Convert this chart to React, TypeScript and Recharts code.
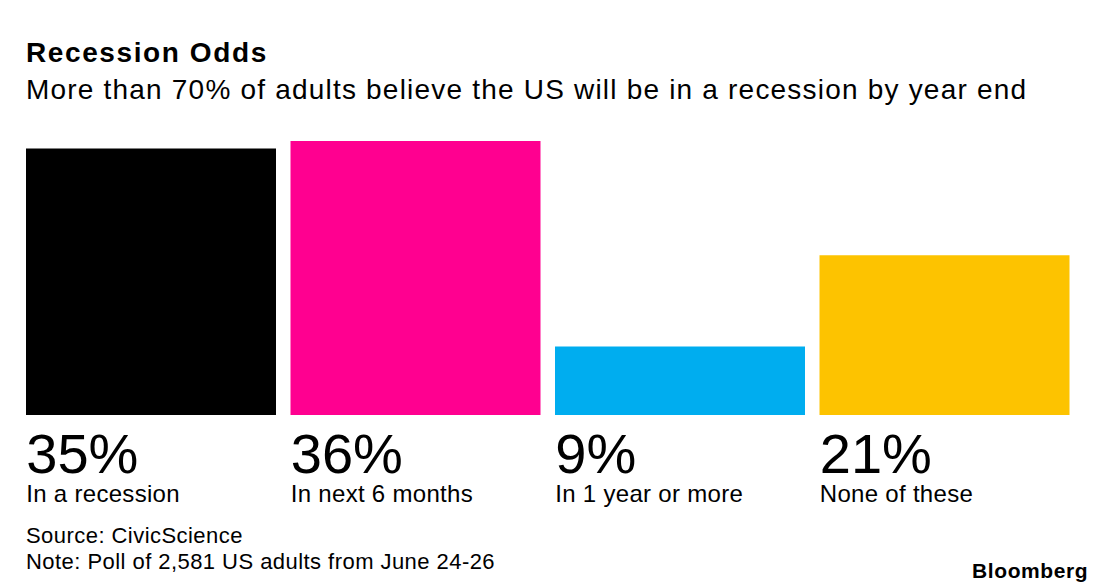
import { Bar, BarChart, Cell, XAxis, YAxis } from "recharts";

const categories = ["In a recession", "In next 6 months", "In 1 year or more", "None of these"];
const shares = [35, 36, 9, 21];
const barColors = ["#000000", "#ff0090", "#00adef", "#fdc300"];

const data = categories.map((name, i) => ({ name, value: shares[i] }));

const font = "'Liberation Sans', Arial, sans-serif";

const BarTick = (props: any) => {
    const { x, y, payload } = props;
    const i = payload.index;
    return (
        <g>
            <text x={x - 125} y={y + 58} fontSize={56} fill="#000" fontFamily={font} textAnchor="start">
                {shares[i]}%
            </text>
            <text x={x - 125} y={y + 87} fontSize={24} letterSpacing={0.3} fill="#000" fontFamily={font} textAnchor="start">
                {categories[i]}
            </text>
        </g>
    );
};

export default function App() {
    return (
        <div style={{ position: "absolute", left: 0, top: 0, width: 1096, height: 587, background: "#fff", fontFamily: font, color: "#000" }}>
            <div style={{ position: "absolute", left: 26, top: 39, fontSize: 28, lineHeight: 1, fontWeight: 700, letterSpacing: 1.6, whiteSpace: "nowrap" }}>
                Recession Odds
            </div>
            <div style={{ position: "absolute", left: 26, top: 76, fontSize: 28, lineHeight: 1, letterSpacing: 1.2, whiteSpace: "nowrap" }}>
                More than 70% of adults believe the US will be in a recession by year end
            </div>
            <BarChart
                width={1096}
                height={587}
                data={data}
                margin={{ top: 141, right: 19, bottom: 72, left: 19 }}
            >
                <XAxis dataKey="name" height={100} axisLine={false} tickLine={false} tickSize={0} tickMargin={0} interval={0} tick={<BarTick />} />
                <YAxis hide domain={[0, 36]} width={0} />
                <Bar dataKey="value" barSize={250} isAnimationActive={false}>
                    {data.map((d, i) => (
                        <Cell key={d.name} fill={barColors[i]} />
                    ))}
                </Bar>
            </BarChart>
            <div style={{ position: "absolute", left: 26, top: 525, fontSize: 22, lineHeight: 1, letterSpacing: 0.45, whiteSpace: "nowrap" }}>
                Source: CivicScience
            </div>
            <div style={{ position: "absolute", left: 26, top: 551, fontSize: 22, lineHeight: 1, letterSpacing: 0.45, whiteSpace: "nowrap" }}>
                Note: Poll of 2,581 US adults from June 24-26
            </div>
            <div style={{ position: "absolute", left: 972, top: 560, fontSize: 21, lineHeight: 1, fontWeight: 700, letterSpacing: 0.6, whiteSpace: "nowrap" }}>
                Bloomberg
            </div>
        </div>
    );
}
